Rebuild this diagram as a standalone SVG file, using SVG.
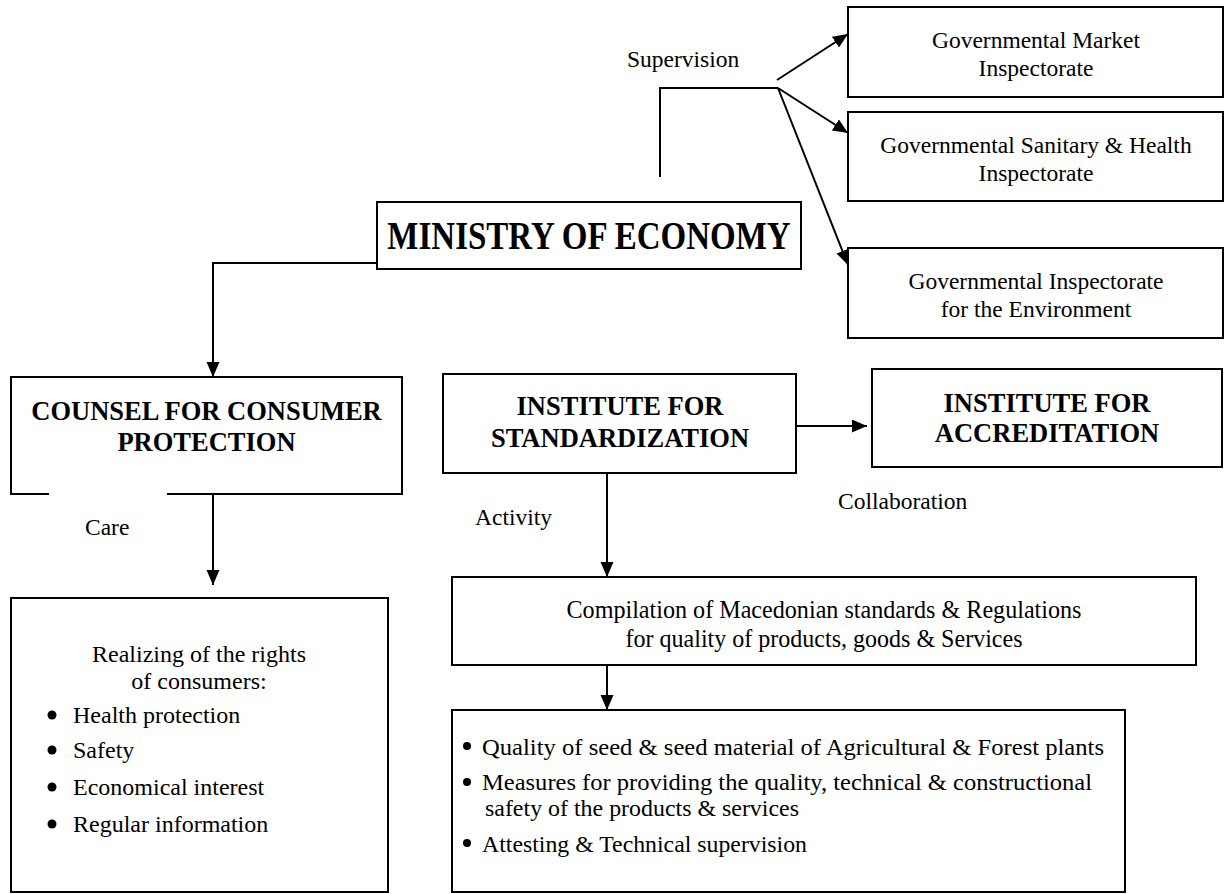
<svg xmlns="http://www.w3.org/2000/svg" width="1224" height="894" viewBox="0 0 1224 894">
  <style>
    .box { fill: #ffffff; stroke: #000000; stroke-width: 2; }
    .line { fill: none; stroke: #000000; stroke-width: 2; }
    .arrow { fill: none; stroke: #000000; stroke-width: 2; marker-end: url(#head); }
    .t { font-family: "Liberation Serif", "Times New Roman", Times, serif; font-size: 23.5px; fill: #000000; }
    .c { text-anchor: middle; }
    .b { font-family: "Liberation Serif", "Times New Roman", Times, serif; font-weight: bold; font-size: 26.5px; fill: #000000; text-anchor: middle; }
    .dot { fill: #000000; }
  </style>
  <defs>
    <marker id="head" markerUnits="userSpaceOnUse" markerWidth="16" markerHeight="14" refX="15" refY="6.5" orient="auto">
      <path d="M0,0 L15,6.5 L0,13 z" fill="#000000"/>
    </marker>
  </defs>

  <rect width="1224" height="894" fill="#ffffff"/>

  <!-- connectors -->
  <g id="connectors">
    <!-- ministry to inspectorates -->
    <polyline class="line" points="660,177 660,88 778,88"/>
    <line class="arrow" x1="777" y1="80" x2="848" y2="34"/>
    <line class="arrow" x1="778" y1="88" x2="848" y2="133"/>
    <line class="arrow" x1="778" y1="88" x2="848" y2="265"/>
    <!-- ministry to counsel -->
    <polyline class="arrow" points="377,263 213,263 213,377"/>
    <!-- counsel to rights -->
    <line class="arrow" x1="213" y1="494" x2="213" y2="585"/>
    <!-- standardization to accreditation -->
    <line class="arrow" x1="796" y1="426" x2="867" y2="426"/>
    <!-- standardization to compilation -->
    <line class="arrow" x1="607" y1="473" x2="607" y2="577"/>
    <!-- compilation to fields -->
    <line class="arrow" x1="607" y1="665" x2="607" y2="710"/>
  </g>

  <text class="t" x="627" y="67">Supervision</text>
  <text class="t" x="85" y="535">Care</text>
  <text class="t" x="475" y="525">Activity</text>
  <text class="t" x="838" y="509">Collaboration</text>

  <g id="market">
    <rect class="box" x="848" y="7" width="375" height="90"/>
    <text class="t c" x="1036" y="48">Governmental Market</text>
    <text class="t c" x="1036" y="76">Inspectorate</text>
  </g>

  <g id="sanitary">
    <rect class="box" x="848" y="112" width="375" height="89"/>
    <text class="t c" x="1036" y="153">Governmental Sanitary &amp; Health</text>
    <text class="t c" x="1036" y="181">Inspectorate</text>
  </g>

  <g id="environment">
    <rect class="box" x="848" y="248" width="375" height="90"/>
    <text class="t c" x="1036" y="289">Governmental Inspectorate</text>
    <text class="t c" x="1036" y="317">for the Environment</text>
  </g>

  <g id="ministry">
    <rect class="box" x="377" y="202" width="424" height="67"/>
    <text class="b" transform="translate(589,249) scale(1,1.2)" style="font-size:33px">MINISTRY OF ECONOMY</text>
  </g>

  <g id="counsel">
    <rect class="box" x="11" y="377" width="391" height="117"/>
    <!-- bottom edge is broken under the heading -->
    <line x1="49" y1="494" x2="167" y2="494" stroke="#ffffff" stroke-width="3"/>
    <text class="b" x="206.5" y="420">COUNSEL FOR CONSUMER</text>
    <text class="b" x="206.5" y="451">PROTECTION</text>
  </g>

  <g id="standardization">
    <rect class="box" x="443" y="374" width="353" height="99"/>
    <text class="b" x="620" y="415">INSTITUTE FOR</text>
    <text class="b" x="620" y="447">STANDARDIZATION</text>
  </g>

  <g id="accreditation">
    <rect class="box" x="872" y="369" width="350" height="98"/>
    <text class="b" x="1047" y="412">INSTITUTE FOR</text>
    <text class="b" x="1047" y="442">ACCREDITATION</text>
  </g>

  <g id="rights">
    <rect class="box" x="11" y="598" width="377" height="294"/>
    <text class="t c" x="199" y="662" style="font-size:24px">Realizing of the rights</text>
    <text class="t c" x="199" y="689" style="font-size:24px">of consumers:</text>
    <circle class="dot" cx="52" cy="715" r="4.5"/>
    <text class="t" x="73" y="723" style="font-size:24px">Health protection</text>
    <circle class="dot" cx="52" cy="750" r="4.5"/>
    <text class="t" x="73" y="758" style="font-size:24px">Safety</text>
    <circle class="dot" cx="52" cy="787" r="4.5"/>
    <text class="t" x="73" y="795" style="font-size:24px">Economical interest</text>
    <circle class="dot" cx="52" cy="824" r="4.5"/>
    <text class="t" x="73" y="832" style="font-size:24px">Regular information</text>
  </g>

  <g id="compilation">
    <rect class="box" x="452" y="577" width="744" height="88"/>
    <text class="t c" x="824" y="618" textLength="515" lengthAdjust="spacingAndGlyphs" style="font-size:25px">Compilation of Macedonian standards &amp; Regulations</text>
    <text class="t c" x="824" y="647" textLength="397" lengthAdjust="spacingAndGlyphs" style="font-size:25px">for quality of products, goods &amp; Services</text>
  </g>

  <g id="fields">
    <rect class="box" x="452" y="710" width="673" height="182"/>
    <circle class="dot" cx="467" cy="746" r="4"/>
    <text class="t" x="482" y="755" textLength="622" lengthAdjust="spacingAndGlyphs" style="font-size:23px">Quality of seed &amp; seed material of Agricultural &amp; Forest plants</text>
    <circle class="dot" cx="467" cy="782" r="4"/>
    <text class="t" x="482" y="790" textLength="610" lengthAdjust="spacingAndGlyphs" style="font-size:23px">Measures for providing the quality, technical &amp; constructional</text>
    <text class="t" x="485" y="816" textLength="314" lengthAdjust="spacingAndGlyphs" style="font-size:23px">safety of the products &amp; services</text>
    <circle class="dot" cx="467" cy="843" r="4"/>
    <text class="t" x="482" y="852" textLength="325" lengthAdjust="spacingAndGlyphs" style="font-size:23px">Attesting &amp; Technical supervision</text>
  </g>
</svg>
